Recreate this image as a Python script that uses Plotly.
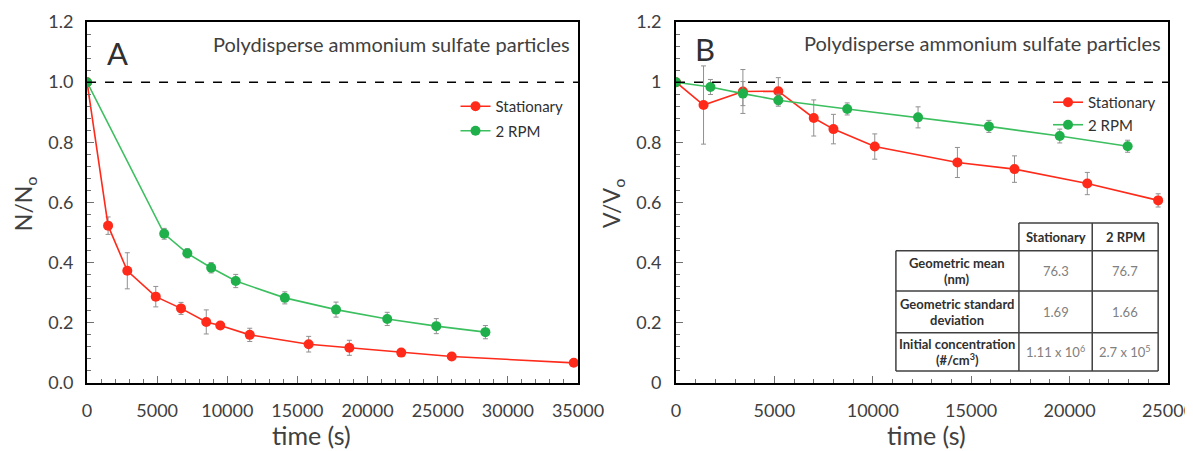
import plotly.graph_objects as go

# panel A: N/No vs time
a_stat_t = [0, 1500, 2870, 4900, 6700, 8500, 9500, 11600, 15800, 18700, 22400, 26000, 34700]
a_stat_v = [1.0, 0.523, 0.373, 0.287, 0.248, 0.203, 0.191, 0.160, 0.129, 0.117, 0.101, 0.088, 0.067]
a_stat_e = [0.0, 0.029, 0.060, 0.034, 0.020, 0.040, 0.010, 0.022, 0.026, 0.025, 0.008, 0.008, 0.005]
a_rpm_t = [0, 5500, 7150, 8850, 10600, 14100, 17750, 21400, 24900, 28400]
a_rpm_v = [1.0, 0.496, 0.431, 0.383, 0.339, 0.283, 0.244, 0.213, 0.189, 0.169]
a_rpm_e = [0.0, 0.018, 0.015, 0.017, 0.022, 0.020, 0.025, 0.022, 0.025, 0.022]

# panel B: V/Vo vs time
b_stat_t = [0, 1400, 3400, 5200, 7000, 8000, 10100, 14300, 17200, 20900, 24500]
b_stat_v = [1.0, 0.924, 0.969, 0.970, 0.881, 0.844, 0.786, 0.733, 0.711, 0.663, 0.607]
b_stat_e = [0.0, 0.130, 0.073, 0.045, 0.060, 0.049, 0.042, 0.050, 0.044, 0.037, 0.022]
b_rpm_t = [0, 1750, 3400, 5200, 8700, 12300, 15900, 19500, 22950]
b_rpm_v = [1.0, 0.984, 0.962, 0.940, 0.911, 0.883, 0.853, 0.821, 0.787]
b_rpm_e = [0.0, 0.025, 0.040, 0.020, 0.020, 0.035, 0.020, 0.023, 0.020]

# table in panel B
tbl_cols = ["Stationary", "2 RPM"]
tbl_rows = [("Geometric mean", "(nm)"), ("Geometric standard", "deviation"),
            ("Initial concentration", "(#/cm<sup>3</sup>)")]
tbl_stat = ["76.3", "1.69", "1.11 x 10<sup>6</sup>"]
tbl_rpm = ["76.7", "1.66", "2.7 x 10<sup>5</sup>"]

RED = "#ff2a1a"
GREEN = "#1fb04b"
FONT = "Lato"
GREY = "#404040"

fig = go.Figure()


def add(t, v, e, name, color, lcolor, xa, ya, legend):
    fig.add_trace(go.Scatter(
        x=t, y=v, name=name, mode="lines+markers", legendgroup=name,
        line=dict(color=lcolor, width=1.6),
        marker=dict(color=color, size=10),
        error_y=dict(type="data", array=e, color="#909090", thickness=1, width=2.5),
        xaxis=xa, yaxis=ya, legend=legend))


add(a_stat_t, a_stat_v, a_stat_e, "Stationary", RED, RED, "x", "y", "legend")
add(a_rpm_t, a_rpm_v, a_rpm_e, "2 RPM", GREEN, "#3cbf5f", "x", "y", "legend")
add(b_stat_t, b_stat_v, b_stat_e, "Stationary", RED, RED, "x2", "y2", "legend2")
add(b_rpm_t, b_rpm_v, b_rpm_e, "2 RPM", GREEN, "#3cbf5f", "x2", "y2", "legend2")

ax = dict(showline=True, linecolor="black", linewidth=2, mirror=True,
          ticks="inside", ticklen=7, tickcolor="#707070", tickwidth=1,
          showgrid=False, zeroline=False, automargin=False, ticklabeloverflow="allow",
          tickfont=dict(family=FONT, size=18, color=GREY))
xminor = dict(dtick=1000, ticks="inside", ticklen=4, tickcolor="#707070")
yminor = dict(dtick=0.04, ticks="inside", ticklen=4, tickcolor="#707070")
legfont = dict(family=FONT, size=15, color="#303030")

fig.update_layout(
    width=1185, height=443,
    margin=dict(l=0, r=0, t=0, b=0),
    plot_bgcolor="white", paper_bgcolor="white",
    font=dict(family=FONT, color=GREY),
    xaxis=dict(ax, domain=[0.0667, 0.4810], range=[0, 35000], dtick=5000, tickformat="d",
               ticklabelstandoff=10, minor=xminor),
    yaxis=dict(ax, domain=[0.1535, 0.9684], range=[0, 1.2], dtick=0.2, tickformat=".1f",
               ticklabelstandoff=8, minor=yminor),
    xaxis2=dict(ax, domain=[0.5637, 0.9789], range=[0, 25000], dtick=5000, tickformat="d",
                anchor="y2", ticklabelstandoff=10, minor=xminor),
    yaxis2=dict(ax, domain=[0.1535, 0.9684], range=[0, 1.2], dtick=0.2, anchor="x2",
                ticklabelstandoff=9, minor=yminor),
    legend=dict(x=0.473, y=0.815, xanchor="right", yanchor="top", bgcolor="rgba(0,0,0,0)",
                font=legfont, tracegroupgap=2, itemwidth=30),
    legend2=dict(x=0.973, y=0.824, xanchor="right", yanchor="top", bgcolor="rgba(0,0,0,0)",
                 font=legfont, tracegroupgap=0, itemwidth=30),
)

shapes = []
annots = []
for xr, yr in (("x", "y"), ("x2", "y2")):
    shapes.append(dict(type="line", xref=xr + " domain", yref=yr, x0=0, x1=1, y0=1, y1=1,
                       line=dict(color="black", width=1.5, dash="dash")))

c = dict(xanchor="center", yanchor="middle", showarrow=False)
# panel letters, titles, axis titles
annots += [
    dict(text="A", xref="x domain", yref="y domain", x=0.036, y=0.915, showarrow=False,
         font=dict(family=FONT, size=31, color="#303030"), xanchor="left", yanchor="middle"),
    dict(text="B", xref="x2 domain", yref="y2 domain", x=0.035, y=0.925, showarrow=False,
         font=dict(family=FONT, size=31, color="#303030"), xanchor="left", yanchor="middle"),
    dict(text="Polydisperse ammonium sulfate particles", xref="x domain", yref="y domain",
         x=0.988, y=0.938, xanchor="right", yanchor="middle", showarrow=False,
         font=dict(family=FONT, size=20, color=GREY)),
    dict(text="Polydisperse ammonium sulfate particles", xref="x2 domain", yref="y2 domain",
         x=0.99, y=0.942, xanchor="right", yanchor="middle", showarrow=False,
         font=dict(family=FONT, size=20, color=GREY)),
    dict(c, text="time (s)", xref="paper", yref="paper", x=0.2557, y=0.036,
         font=dict(family=FONT, size=25, color=GREY)),
    dict(c, text="time (s)", xref="paper", yref="paper", x=0.7747, y=0.036,
         font=dict(family=FONT, size=25, color=GREY)),
    dict(c, text="N/N<sub>o</sub>", xref="paper", yref="paper", x=0.0145, y=0.5576,
         textangle=-90, font=dict(family=FONT, size=23, color=GREY)),
    dict(c, text="V/V<sub>o</sub>", xref="paper", yref="paper", x=0.5097, y=0.5598,
         textangle=-90, font=dict(family=FONT, size=23, color=GREY)),
]

# table drawn in panel B domain coordinates
xs = [0.447, 0.697, 0.846, 0.980]
ys = [0.443, 0.366, 0.255, 0.139, 0.033]
dom = dict(xref="x2 domain", yref="y2 domain")
tdom = dict(dom, **c)
shapes.append(dict(dom, type="rect", x0=xs[0], x1=xs[3], y0=ys[4], y1=ys[1],
                   fillcolor="white", line=dict(width=0)))
shapes.append(dict(dom, type="rect", x0=xs[1], x1=xs[3], y0=ys[1], y1=ys[0],
                   fillcolor="white", line=dict(width=0)))
tl = dict(color="#404040", width=1.5)
for y in ys[1:]:
    shapes.append(dict(dom, type="line", x0=xs[0], x1=xs[3], y0=y, y1=y, line=tl))
shapes.append(dict(dom, type="line", x0=xs[1], x1=xs[3], y0=ys[0], y1=ys[0], line=tl))
shapes.append(dict(dom, type="line", x0=xs[0], x1=xs[0], y0=ys[4], y1=ys[1], line=tl))
for x in xs[1:]:
    shapes.append(dict(dom, type="line", x0=x, x1=x, y0=ys[4], y1=ys[0], line=tl))

bold = dict(family=FONT, size=13, color="#303030")
val = dict(family=FONT, size=13, color="#808080")
half = 0.0215
for i, col in enumerate(tbl_cols):
    annots.append(dict(tdom, text="<b>%s</b>" % col, x=(xs[i + 1] + xs[i + 2]) / 2,
                       y=(ys[0] + ys[1]) / 2, font=bold))
for j, (l1, l2) in enumerate(tbl_rows):
    yc = (ys[j + 1] + ys[j + 2]) / 2
    annots.append(dict(tdom, text="<b>%s</b>" % l1, x=(xs[0] + xs[1]) / 2, y=yc + half,
                       font=bold))
    annots.append(dict(tdom, text="<b>%s</b>" % l2, x=(xs[0] + xs[1]) / 2, y=yc - half,
                       font=bold))
    annots.append(dict(tdom, text=tbl_stat[j], x=(xs[1] + xs[2]) / 2, y=yc, font=val))
    annots.append(dict(tdom, text=tbl_rpm[j], x=(xs[2] + xs[3]) / 2, y=yc, font=val))

fig.update_layout(shapes=shapes, annotations=annots)

fig.write_html("out.html")
